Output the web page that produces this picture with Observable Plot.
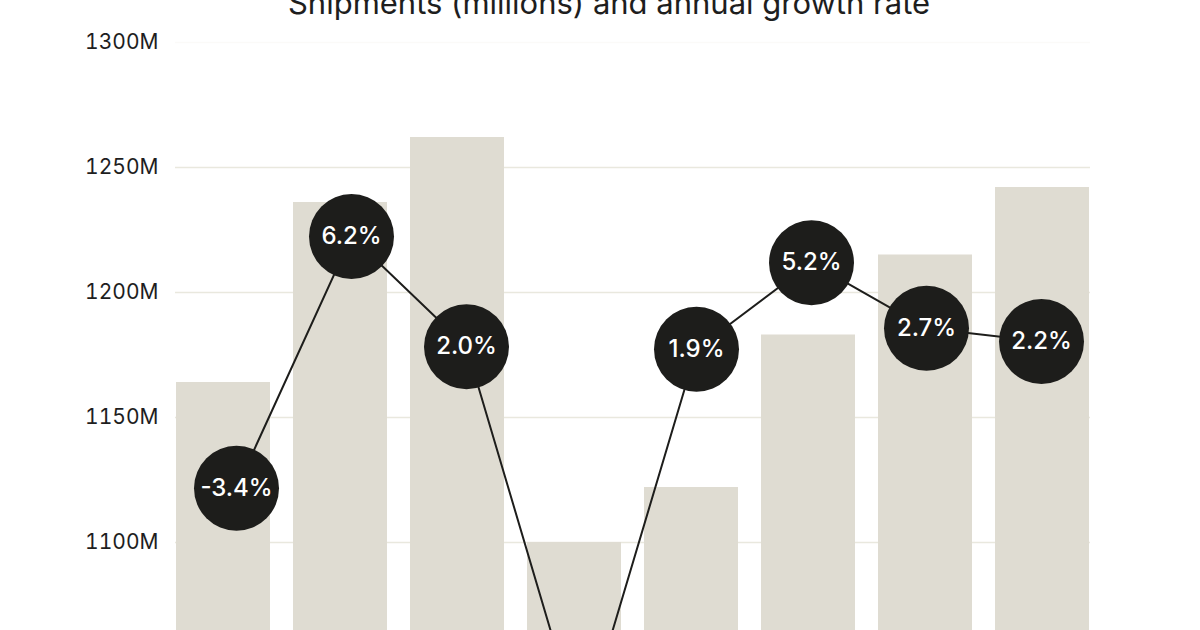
<!DOCTYPE html>
<html>
<head>
<meta charset="utf-8">
<script src="https://cdn.jsdelivr.net/npm/d3@7"></script>
<script src="https://cdn.jsdelivr.net/npm/@observablehq/plot@0.6"></script>
<style>
  html, body { margin: 0; padding: 0; background: #ffffff; overflow: hidden; }
  #wrap { position: relative; width: 1200px; font-family: Inter, "Noto Sans", sans-serif; color: #1e1e1e; }
  #title { height: 16px; position: relative; top: -13px; line-height: 31px; font-size: 31px; font-weight: 400;
           text-align: center; padding-left: 18px; white-space: nowrap; color: #1e1e1e; }
  #charts { position: relative; }
  #charts svg { display: block; }
  #overlay { position: absolute; left: 0; top: 0; }
</style>
</head>
<body>
<div id="wrap">
  <div id="title">Shipments (millions) and annual growth rate</div>
  <div id="charts">
    <div id="bars"></div>
    <div id="overlay"></div>
  </div>
</div>
<script>
// Data
const periods = ["2016", "2017", "2018", "2019", "2020", "2021", "2022", "2023"];
const shipments = [1164, 1236, 1262, 1100, 1122, 1183, 1215, 1242];
const growth = [-3.4, 6.2, 2.0, -12.8, 1.9, 5.2, 2.7, 2.2];
const yTicks = [1100, 1150, 1200, 1250, 1300];
const yDomain = [1000, 1300];
const growthDomain = [-15, 13.6];

const rows = periods.map((p, i) => ({period: p, shipments: shipments[i], growth: growth[i]}));

const W = 1200, H = 830;
const dark = "#1d1d1b";

const bars = Plot.plot({
  width: W, height: H,
  marginLeft: 175, marginRight: 110, marginTop: 26, marginBottom: 54,
  style: {fontFamily: "Inter, 'Noto Sans', sans-serif", fontSize: "21px", color: "#1e1e1e", background: "transparent"},
  x: {domain: periods, paddingInner: 0.2, paddingOuter: 0, axis: null},
  y: {domain: yDomain, ticks: yTicks, tickFormat: d => d + "M", label: null, tickSize: 0, tickPadding: 17},
  marks: [
    Plot.ruleY(yTicks, {stroke: "#e9e8de", strokeWidth: 1.5, strokeOpacity: d => d === yDomain[1] ? 0.2 : 1}),
    Plot.barY(rows, {x: "period", y1: () => yDomain[0], y2: "shipments", fill: "#dfdcd2"})
  ]
});
document.getElementById("bars").appendChild(bars);

const overlay = Plot.plot({
  width: W, height: H,
  marginLeft: 234, marginRight: 156.5, marginTop: 26, marginBottom: 54,
  style: {fontFamily: "Inter, 'Noto Sans', sans-serif", background: "transparent"},
  x: {type: "point", domain: periods, padding: 0, axis: null},
  y: {domain: growthDomain, axis: null},
  marks: [
    Plot.line(rows, {x: "period", y: "growth", stroke: dark, strokeWidth: 2}),
    Plot.dot(rows, {x: "period", y: "growth", r: 42.5, fill: dark, stroke: "none"}),
    Plot.text(rows, {x: "period", y: "growth", text: d => d.growth.toFixed(1) + "%", fill: "#ffffff", fontSize: 24, fontWeight: 500})
  ]
});
document.getElementById("overlay").appendChild(overlay);
</script>
</body>
</html>
